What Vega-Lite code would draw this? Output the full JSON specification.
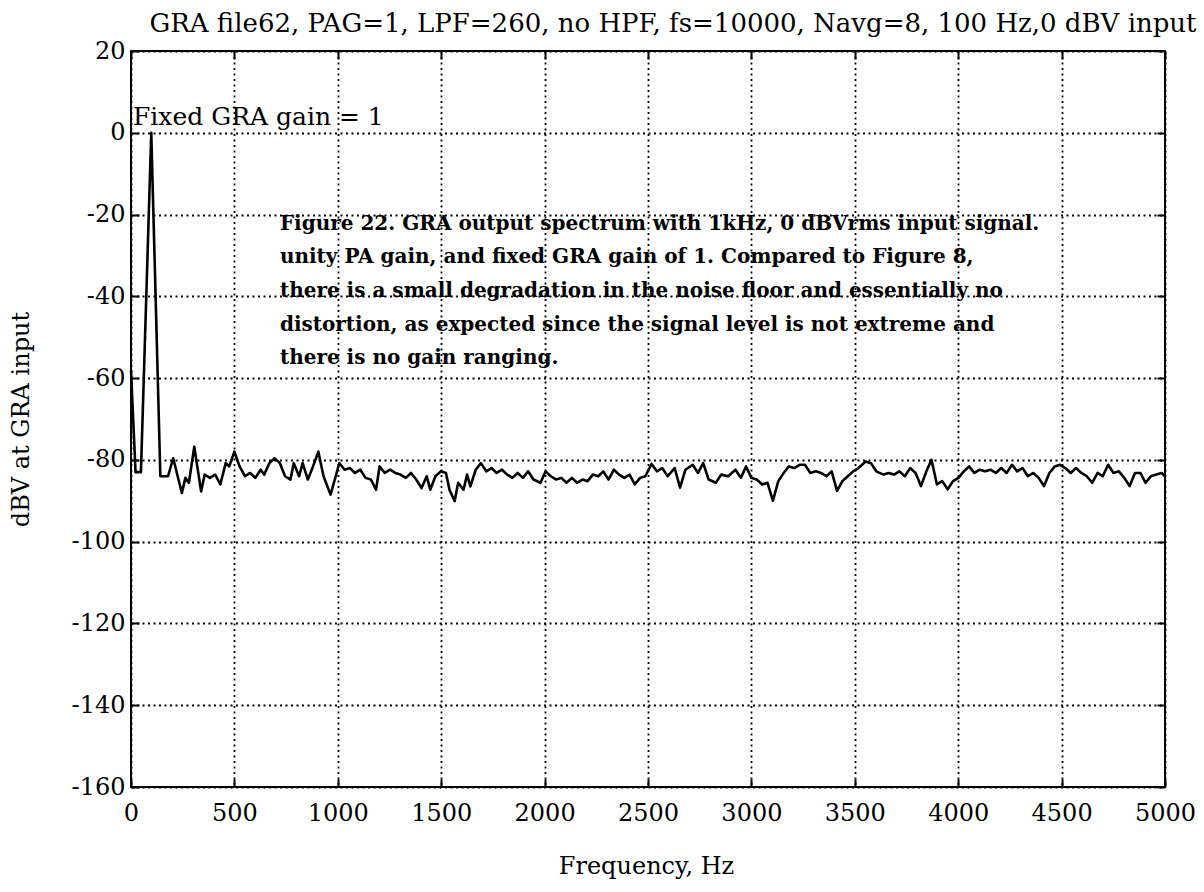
{
  "$schema": "https://vega.github.io/schema/vega-lite/v6.json",
  "width": 1034,
  "height": 736,
  "autosize": {"type": "none"},
  "padding": {"left": 131, "top": 51, "right": 39, "bottom": 105},
  "background": "white",
  "config": {
    "view": {"stroke": "black", "strokeWidth": 2},
    "font": "DejaVu Serif"
  },
  "title": {
    "text": "GRA file62, PAG=1, LPF=260, no HPF, fs=10000, Navg=8, 100 Hz,0 dBV input",
    "font": "DejaVu Serif",
    "fontSize": 26,
    "fontWeight": "normal",
    "color": "black",
    "anchor": "middle",
    "baseline": "bottom",
    "offset": 15,
    "dx": 25,
    "dy": 39
  },
  "datasets": {
    "spectrum": [
      {"f":0,"v":-58},{"f":22,"v":-83},{"f":48,"v":-83},{"f":98,"v":0},{"f":142,"v":-84},
      {"f":179,"v":-84},{"f":204,"v":-79.6},{"f":246,"v":-88.1},{"f":263,"v":-84.4},{"f":280,"v":-85.6},
      {"f":306,"v":-76.8},{"f":339,"v":-87.7},{"f":356,"v":-83.6},{"f":382,"v":-84.4},{"f":407,"v":-83.6},
      {"f":432,"v":-86},{"f":458,"v":-80.8},{"f":475,"v":-81.6},{"f":500,"v":-78},{"f":525,"v":-81.6},
      {"f":551,"v":-84},{"f":576,"v":-83.2},{"f":601,"v":-84.4},{"f":627,"v":-82.4},{"f":644,"v":-83.6},
      {"f":669,"v":-80.8},{"f":694,"v":-79.6},{"f":720,"v":-80.8},{"f":745,"v":-84},{"f":771,"v":-84.8},
      {"f":787,"v":-80.8},{"f":813,"v":-84},{"f":830,"v":-80.8},{"f":855,"v":-84.8},{"f":880,"v":-81.6},
      {"f":906,"v":-78},{"f":931,"v":-84},{"f":965,"v":-88.5},{"f":990,"v":-84},{"f":1007,"v":-80.8},
      {"f":1033,"v":-82.4},{"f":1058,"v":-82},{"f":1083,"v":-83.2},{"f":1109,"v":-82.4},{"f":1134,"v":-84.4},
      {"f":1160,"v":-84.8},{"f":1185,"v":-87.3},{"f":1202,"v":-81.6},{"f":1227,"v":-83.2},{"f":1253,"v":-82.4},
      {"f":1278,"v":-83.2},{"f":1303,"v":-83.6},{"f":1329,"v":-84.4},{"f":1354,"v":-83.2},{"f":1379,"v":-84.8},
      {"f":1405,"v":-86.9},{"f":1430,"v":-84},{"f":1447,"v":-87.3},{"f":1472,"v":-84},{"f":1498,"v":-82.8},
      {"f":1523,"v":-83.2},{"f":1540,"v":-87.3},{"f":1565,"v":-90.1},{"f":1582,"v":-85.6},{"f":1608,"v":-87.3},
      {"f":1625,"v":-83.6},{"f":1641,"v":-86.5},{"f":1667,"v":-82.4},{"f":1692,"v":-80.8},{"f":1718,"v":-82.8},
      {"f":1743,"v":-82},{"f":1768,"v":-83.2},{"f":1794,"v":-82.4},{"f":1819,"v":-83.6},{"f":1844,"v":-84.4},
      {"f":1870,"v":-83.2},{"f":1895,"v":-84.4},{"f":1920,"v":-82.8},{"f":1946,"v":-84.8},{"f":1980,"v":-85.6},
      {"f":2005,"v":-82.8},{"f":2030,"v":-84},{"f":2056,"v":-84.8},{"f":2081,"v":-84.4},{"f":2106,"v":-85.6},
      {"f":2132,"v":-84.4},{"f":2157,"v":-85.6},{"f":2183,"v":-84.8},{"f":2208,"v":-85.2},{"f":2233,"v":-83.6},
      {"f":2259,"v":-84},{"f":2284,"v":-82.8},{"f":2309,"v":-84.8},{"f":2335,"v":-82.4},{"f":2360,"v":-83.6},
      {"f":2385,"v":-84.4},{"f":2411,"v":-83.6},{"f":2436,"v":-86},{"f":2462,"v":-84.4},{"f":2487,"v":-84},
      {"f":2517,"v":-81},{"f":2543,"v":-82.8},{"f":2569,"v":-82},{"f":2595,"v":-84},{"f":2629,"v":-82},
      {"f":2655,"v":-86.8},{"f":2681,"v":-82.4},{"f":2716,"v":-81.2},{"f":2742,"v":-83.2},{"f":2767,"v":-80.8},
      {"f":2793,"v":-84.8},{"f":2828,"v":-85.6},{"f":2854,"v":-83.6},{"f":2888,"v":-84},{"f":2923,"v":-82.4},
      {"f":2949,"v":-84.4},{"f":2974,"v":-81.6},{"f":3000,"v":-84.4},{"f":3026,"v":-84.8},{"f":3052,"v":-86},
      {"f":3078,"v":-85.6},{"f":3104,"v":-90},{"f":3130,"v":-85.2},{"f":3156,"v":-83.2},{"f":3181,"v":-81.6},
      {"f":3207,"v":-82},{"f":3233,"v":-81.2},{"f":3259,"v":-81.2},{"f":3285,"v":-83.2},{"f":3311,"v":-82.8},
      {"f":3337,"v":-83.2},{"f":3363,"v":-84},{"f":3388,"v":-82.8},{"f":3414,"v":-87.6},{"f":3440,"v":-85.2},
      {"f":3466,"v":-84},{"f":3492,"v":-82.8},{"f":3518,"v":-82},{"f":3552,"v":-80.4},{"f":3578,"v":-80.8},
      {"f":3604,"v":-82.8},{"f":3639,"v":-83.6},{"f":3664,"v":-83.2},{"f":3690,"v":-83.6},{"f":3716,"v":-82.8},
      {"f":3742,"v":-84},{"f":3768,"v":-82},{"f":3794,"v":-83.2},{"f":3820,"v":-86.4},{"f":3846,"v":-82.8},
      {"f":3871,"v":-80},{"f":3897,"v":-86},{"f":3923,"v":-85.2},{"f":3949,"v":-87.2},{"f":3975,"v":-85.2},
      {"f":4001,"v":-84.4},{"f":4027,"v":-82.8},{"f":4053,"v":-81.6},{"f":4078,"v":-83.2},{"f":4104,"v":-82.4},
      {"f":4130,"v":-82.8},{"f":4156,"v":-82.4},{"f":4182,"v":-83.2},{"f":4208,"v":-82},{"f":4234,"v":-83.2},
      {"f":4260,"v":-81.2},{"f":4285,"v":-82.8},{"f":4311,"v":-82},{"f":4337,"v":-84},{"f":4363,"v":-83.2},
      {"f":4389,"v":-84.4},{"f":4415,"v":-86.4},{"f":4441,"v":-83.2},{"f":4467,"v":-81.6},{"f":4492,"v":-81.2},
      {"f":4518,"v":-82},{"f":4544,"v":-83.2},{"f":4570,"v":-82},{"f":4596,"v":-83.2},{"f":4622,"v":-84},
      {"f":4648,"v":-85.6},{"f":4674,"v":-83.2},{"f":4699,"v":-84},{"f":4725,"v":-81.2},{"f":4751,"v":-83.2},
      {"f":4777,"v":-82.8},{"f":4803,"v":-84.4},{"f":4829,"v":-86.4},{"f":4855,"v":-83.2},{"f":4881,"v":-83.2},
      {"f":4906,"v":-85.6},{"f":4932,"v":-84},{"f":4958,"v":-83.6},{"f":4984,"v":-83.2},{"f":5000,"v":-84}
    ],
    "gainNote": [
      {"f": 0, "v": 2, "label": "Fixed GRA gain = 1"}
    ],
    "caption": [
      {"f": 720, "v": -22.3, "label": "Figure 22. GRA output spectrum with 1kHz, 0 dBVrms input signal."},
      {"f": 720, "v": -30.5, "label": "unity PA gain, and fixed GRA gain of 1. Compared to Figure 8,"},
      {"f": 720, "v": -38.7, "label": "there is a small degradation in the noise floor and essentially no"},
      {"f": 720, "v": -46.9, "label": "distortion, as expected since the signal level is not extreme and"},
      {"f": 720, "v": -55.1, "label": "there is no gain ranging."}
    ]
  },
  "resolve": {"axis": {"x": "independent", "y": "independent"}},
  "layer": [
    {
      "data": {"name": "spectrum"},
      "mark": {"type": "line", "color": "black", "strokeWidth": 2.6, "strokeJoin": "round"},
      "encoding": {
        "x": {
          "field": "f", "type": "quantitative",
          "scale": {"domain": [0, 5000], "nice": false, "zero": false},
          "axis": {
            "orient": "bottom",
            "values": [0, 500, 1000, 1500, 2000, 2500, 3000, 3500, 4000, 4500, 5000],
            "labelExpr": "'' + datum.value",
            "grid": true, "gridColor": "black", "gridDash": [2, 3.5], "gridWidth": 1.8, "gridOpacity": 1,
            "domain": false,
            "ticks": true, "tickSize": -8, "tickWidth": 2, "tickColor": "black",
            "labelFont": "DejaVu Serif", "labelFontSize": 24, "labelColor": "black",
            "labelPadding": 22, "labelFlush": false, "labelOverlap": false, "labelBound": false,
            "title": "Frequency, Hz",
            "titleFont": "DejaVu Serif", "titleFontSize": 24, "titleFontWeight": "normal", "titleColor": "black",
            "titleX": 515, "titleY": 79, "titleBaseline": "middle", "titleAlign": "center"
          }
        },
        "y": {
          "field": "v", "type": "quantitative",
          "scale": {"domain": [-160, 20], "nice": false, "zero": false},
          "axis": {
            "orient": "left",
            "values": [-160, -140, -120, -100, -80, -60, -40, -20, 0, 20],
            "labelExpr": "'' + datum.value",
            "grid": true, "gridColor": "black", "gridDash": [2, 3.5], "gridWidth": 1.8, "gridOpacity": 1,
            "domain": false,
            "ticks": true, "tickSize": -8, "tickWidth": 2, "tickColor": "black",
            "labelFont": "DejaVu Serif", "labelFontSize": 24, "labelColor": "black",
            "labelPadding": 14, "labelFlush": false, "labelOverlap": false, "labelBound": false,
            "title": "dBV at GRA input",
            "titleFont": "DejaVu Serif", "titleFontSize": 24, "titleFontWeight": "normal", "titleColor": "black",
            "titleX": -110, "titleY": 368, "titleAngle": -90, "titleBaseline": "middle", "titleAlign": "center"
          }
        }
      }
    },
    {
      "data": {"name": "spectrum"},
      "mark": {"type": "line", "strokeOpacity": 0},
      "encoding": {
        "x": {
          "field": "f", "type": "quantitative",
          "scale": {"domain": [0, 5000], "nice": false, "zero": false},
          "axis": {
            "orient": "top",
            "values": [0, 500, 1000, 1500, 2000, 2500, 3000, 3500, 4000, 4500, 5000],
            "grid": false, "domain": false, "labels": false,
            "ticks": true, "tickSize": -8, "tickWidth": 2, "tickColor": "black",
            "title": null
          }
        },
        "y": {
          "field": "v", "type": "quantitative",
          "scale": {"domain": [-160, 20], "nice": false, "zero": false},
          "axis": {
            "orient": "right",
            "values": [-160, -140, -120, -100, -80, -60, -40, -20, 0, 20],
            "grid": false, "domain": false, "labels": false,
            "ticks": true, "tickSize": -8, "tickWidth": 2, "tickColor": "black",
            "title": null
          }
        }
      }
    },
    {
      "data": {"name": "gainNote"},
      "mark": {"type": "text", "align": "left", "baseline": "alphabetic", "font": "DejaVu Serif", "fontSize": 25, "color": "black", "dx": 2},
      "encoding": {
        "x": {"field": "f", "type": "quantitative", "scale": {"domain": [0, 5000], "nice": false, "zero": false}, "axis": null},
        "y": {"field": "v", "type": "quantitative", "scale": {"domain": [-160, 20], "nice": false, "zero": false}, "axis": null},
        "text": {"field": "label"}
      }
    },
    {
      "data": {"name": "caption"},
      "mark": {"type": "text", "align": "left", "baseline": "middle", "font": "DejaVu Serif", "fontSize": 20, "fontWeight": "bold", "color": "black"},
      "encoding": {
        "x": {"field": "f", "type": "quantitative", "scale": {"domain": [0, 5000], "nice": false, "zero": false}, "axis": null},
        "y": {"field": "v", "type": "quantitative", "scale": {"domain": [-160, 20], "nice": false, "zero": false}, "axis": null},
        "text": {"field": "label"}
      }
    }
  ]
}
